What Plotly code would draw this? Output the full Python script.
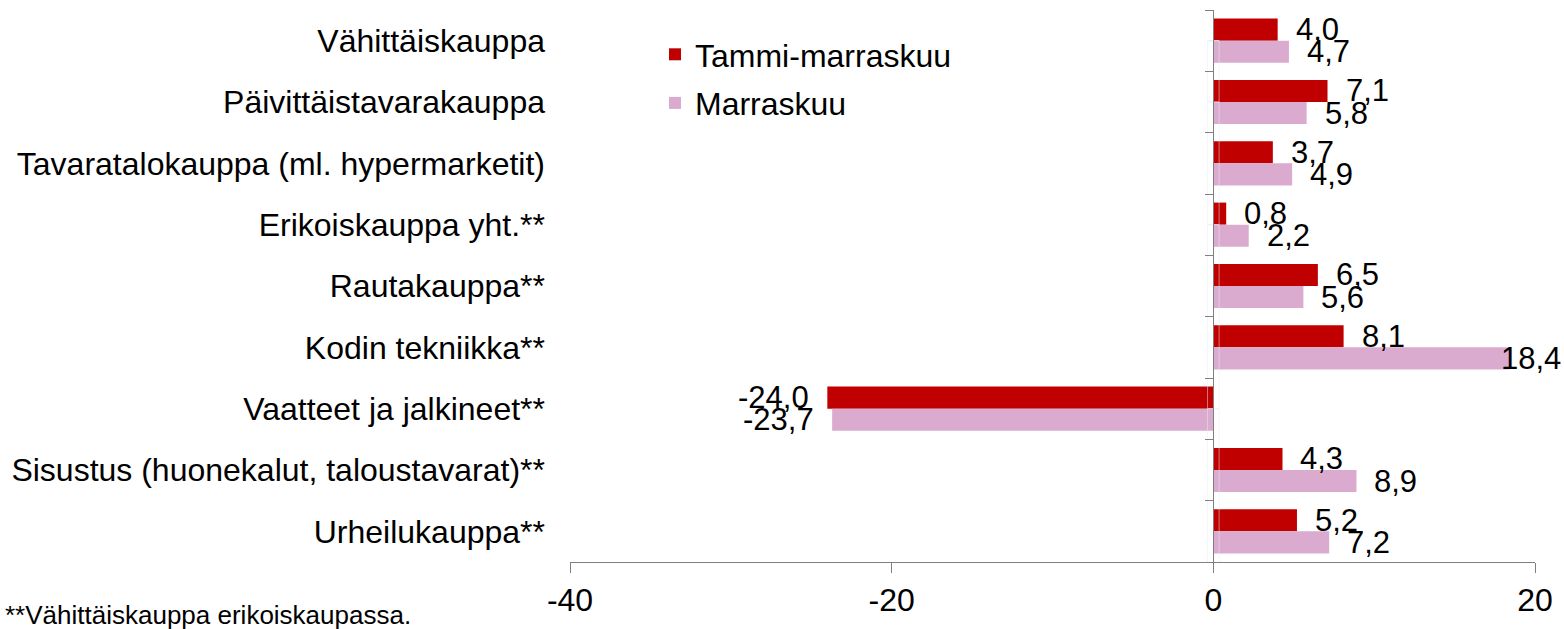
import plotly.graph_objects as go

categories = [
    "Vähittäiskauppa",
    "Päivittäistavarakauppa",
    "Tavaratalokauppa (ml. hypermarketit)",
    "Erikoiskauppa yht.**",
    "Rautakauppa**",
    "Kodin tekniikka**",
    "Vaatteet ja jalkineet**",
    "Sisustus (huonekalut, taloustavarat)**",
    "Urheilukauppa**",
]
tammi_marraskuu = [4.0, 7.1, 3.7, 0.8, 6.5, 8.1, -24.0, 4.3, 5.2]
marraskuu = [4.7, 5.8, 4.9, 2.2, 5.6, 18.4, -23.7, 8.9, 7.2]
series_names = ["Tammi-marraskuu", "Marraskuu"]
series_colors = ["#C00000", "#DAABCE"]
x_tickvals = [-40, -20, 0, 20]
x_ticktext = ["-40", "-20", "0", "20"]
footnote = "**Vähittäiskauppa erikoiskaupassa."

FONT = "Liberation Sans, Arial, sans-serif"
W, H = 1564, 629
ML, MR, MT, MB = 570, 29, 10, 67
XMIN, XMAX = -40, 20
BARGAP = 0.28
N = len(categories)
YRANGE = [N - 0.5, -0.5]

fig = go.Figure()
for name, vals, col in zip(series_names, [tammi_marraskuu, marraskuu], series_colors):
    fig.add_trace(go.Bar(
        y=categories, x=vals, name=name, orientation="h",
        marker=dict(color=col, line=dict(width=0)),
        yaxis="y", legendgroup=name,
    ))

# invisible trace for the zero-position axis with boundary ticks
fig.add_trace(go.Bar(y=categories, x=[0] * N, yaxis="y2",
                     showlegend=False, hoverinfo="skip",
                     marker=dict(color="rgba(0,0,0,0)")))

# data labels
plot_w = W - ML - MR
plot_h = H - MT - MB
px_per_unit = plot_w / (XMAX - XMIN)
bar_w = (1 - BARGAP) / 2
annotations = []
for si, vals in enumerate([tammi_marraskuu, marraskuu]):
    offset = (si - 0.5) * bar_w
    for ci, v in enumerate(vals):
        txt = f"{v:.1f}".replace(".", ",")
        est_w = sum(17.8 if ch.isdigit() else 9 for ch in txt)
        end_px = (v - XMIN) * px_per_unit
        if v >= 0:
            shift = 16
            if ML + end_px + shift + est_w > W - 3:
                shift = (W - 3) - (ML + end_px) - est_w
            anchor = "left"
        else:
            shift = -16
            anchor = "right"
        annotations.append(dict(
            x=v, y=ci + offset, xref="x", yref="y", text=txt,
            showarrow=False, xanchor=anchor, yanchor="middle", xshift=shift,
            font=dict(family=FONT, size=31, color="#000000"),
        ))

annotations.append(dict(
    x=(3 - ML) / plot_w, y=(H - MB - 615) / plot_h, xref="paper", yref="paper",
    text=footnote, showarrow=False, xanchor="left", yanchor="middle",
    font=dict(family=FONT, size=26, color="#000000"),
))

fig.update_layout(
    width=W, height=H,
    margin=dict(l=ML, r=MR, t=MT, b=MB, autoexpand=False),
    paper_bgcolor="white", plot_bgcolor="white",
    barmode="group", bargap=BARGAP, bargroupgap=0,
    font=dict(family=FONT, size=32, color="#000000"),
    showlegend=True,
    legend=dict(x=(655 - ML) / plot_w, y=1 - (27 - MT) / plot_h,
                xanchor="left", yanchor="top",
                bgcolor="rgba(0,0,0,0)", font=dict(size=32),
                traceorder="grouped", tracegroupgap=4),
    xaxis=dict(range=[XMIN, XMAX], tickvals=x_tickvals, ticktext=x_ticktext,
               showgrid=False, zeroline=False, showline=True, automargin=False,
               linecolor="#7f7f7f", linewidth=1, ticks="outside", ticklen=10,
               tickcolor="#7f7f7f", tickfont=dict(size=32), mirror=False),
    yaxis=dict(type="category", categoryorder="array", categoryarray=categories,
               range=YRANGE, showgrid=False, zeroline=False, automargin=False,
               showline=False, ticks="", ticklabelstandoff=24,
               tickfont=dict(size=32)),
    yaxis2=dict(type="category", overlaying="y", anchor="free",
                categoryorder="array", categoryarray=categories, range=YRANGE,
                position=(0 - XMIN) / (XMAX - XMIN), side="left", automargin=False,
                showgrid=False, zeroline=False, showline=True,
                linecolor="#7f7f7f", linewidth=1, ticks="outside", ticklen=8,
                tickcolor="#7f7f7f", tickson="boundaries", showticklabels=False),
    annotations=annotations,
)

fig.write_html("out.html", post_script="document.body.style.margin='0';",
               config={"displayModeBar": False})
